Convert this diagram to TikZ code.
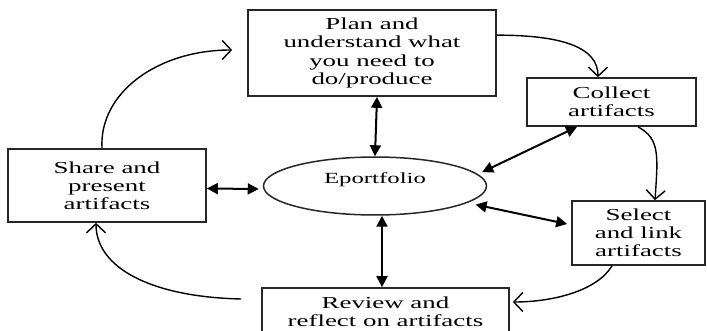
\documentclass[tikz,border=0pt]{standalone}
\usepackage{fontspec}
\setmainfont{Liberation Serif}[FakeStretch=1.6]
\usetikzlibrary{shapes.geometric,arrows.meta}
\begin{document}
\begin{tikzpicture}[x=1pt,y=-1pt,
  stagebox/.style={draw=black!85,line width=1.7pt,fill=white,inner sep=0pt,
    align=center,font=\fontsize{16.8}{18.2}\selectfont},
  hub/.style={ellipse,draw=black!85,line width=1.5pt,inner sep=0pt,
    minimum width=223pt,minimum height=58pt},
  link/.style={line width=2pt,
    {Triangle[length=11pt,width=11pt]}-{Triangle[length=11pt,width=11pt]}},
  flow/.style={line width=1.4pt,
    -{Straight Barb[length=9pt,width=19pt,line width=1.4pt]}}]
\useasboundingbox (0,0) rectangle (707,331);
\clip (0,0) rectangle (707,331);

% stages of the cycle
\node[stagebox,minimum width=248pt,minimum height=86pt] (plan) at (372,53)
  {Plan and\\understand what\\you need to\\do/produce};
\node[stagebox,minimum width=169pt,minimum height=48pt] (collect) at (611.5,102)
  {Collect\\artifacts};
\node[stagebox,minimum width=133pt,minimum height=64pt] (select) at (638.5,233)
  {Select\\and link\\artifacts};
\node[stagebox,minimum width=247pt,minimum height=48pt] (review) at (385.5,312)
  {Review and\\reflect on artifacts};
\node[stagebox,minimum width=198pt,minimum height=73pt] (share) at (107,185.5)
  {Share and\\present\\artifacts};

% central eportfolio
\node[hub] (eport) at (375,186) {};
\node[font=\fontsize{15.5}{17}\selectfont,inner sep=0pt] (eporttext)
  at ([yshift=6pt]eport.center) {Eportfolio};

% two-way links with the eportfolio
\draw[link] ([xshift=5pt]plan.south) -- (eport.north);
\draw[link] ([xshift=-34.5pt]collect.south) -- ([xshift=8pt]eport.8);
\draw[link] ([yshift=-3pt]share.east) -- ([xshift=-4pt,yshift=-3pt]eport.west);
\draw[link] ([xshift=13pt]eport.-12) -- ([xshift=-4pt,yshift=9pt]select.west);
\draw[link] ([xshift=7pt]eport.south) -- ([xshift=-3.5pt]review.north);

% the cycle
\draw[flow] ([yshift=-26pt]plan.north east)
  .. controls +(65,0) and +(0,-30) .. ([xshift=-13.5pt]collect.north);
\draw[flow] ([xshift=26.5pt]collect.south)
  .. controls +(22,12) and +(3,-45) .. ([xshift=16.5pt]select.north);
\draw[flow] ([xshift=-26.5pt]select.south)
  .. controls +(-15,25) and +(40,0) .. ([xshift=3pt,yshift=10pt]review.east);
\draw[flow] ([xshift=-20pt,yshift=13pt]review.west)
  .. controls +(-90,-2) and +(0,45) .. ([xshift=-11pt]share.south);
\draw[flow] ([xshift=-5pt]share.north)
  .. controls +(-3,-55) and +(-75,0) .. ([xshift=-15pt,yshift=3pt]plan.west);
\end{tikzpicture}
\end{document}
